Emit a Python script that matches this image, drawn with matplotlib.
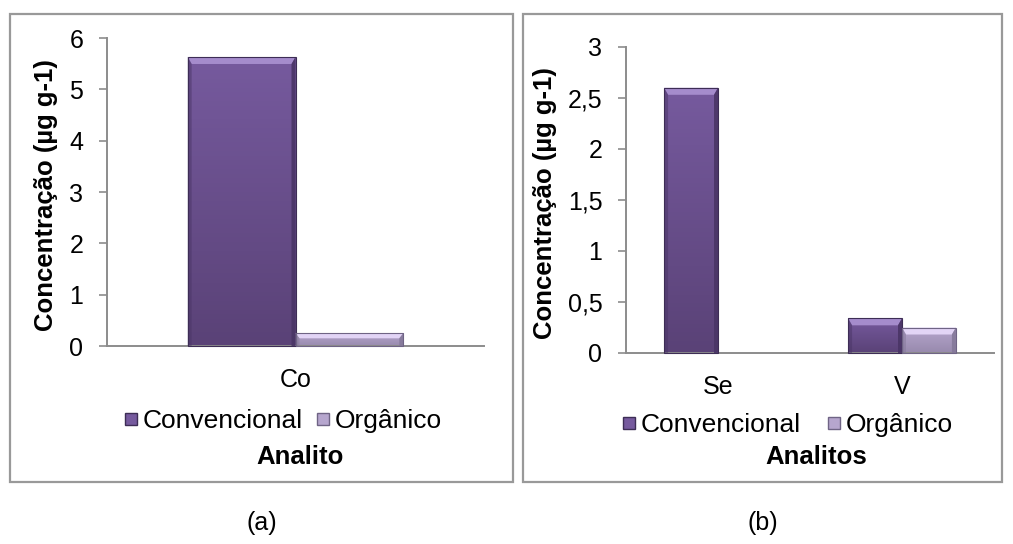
import matplotlib
matplotlib.use("Agg")
import matplotlib.pyplot as plt
import numpy as np
from matplotlib.patches import Rectangle, Polygon
from matplotlib.transforms import IdentityTransform
from matplotlib.lines import Line2D
from matplotlib.colors import LinearSegmentedColormap

plt.rcParams['font.family'] = ['Liberation Sans', 'DejaVu Sans']

# Panel (a): cobalt
cats_a = ["Co"]
conv_a = [5.63]
org_a = [0.25]
yticks_a = [0, 1, 2, 3, 4, 5, 6]
yticklabels_a = ["0", "1", "2", "3", "4", "5", "6"]

# Panel (b): selenium and vanadium
cats_b = ["Se", "V"]
conv_b = [2.60, 0.34]
org_b = [0.0, 0.25]
yticks_b = [0, 0.5, 1, 1.5, 2, 2.5, 3]
yticklabels_b = ["0", "0,5", "1", "1,5", "2", "2,5", "3"]

series_names = ["Convencional", "Orgânico"]
ylabel = "Concentração (µg g-1)"

W, H = 1013, 544
fig = plt.figure(figsize=(W / 100, H / 100), dpi=100)
fig.patch.set_facecolor("white")

FS_TICK = 18
FS_LEG = 19
FS_LAB = 18.5
AXIS_GRAY = "#8c8c8c"

# bar shading: top bevel, body top, body bottom, side bevel, outline
STYLE = {
    "conv": dict(top="#a58ccc", body0="#765a9e", body1="#5a4277", side="#4a3566", edge="#3d2d55"),
    "org": dict(top="#e2d4f6", body0="#b6a6ce", body1="#988aad", side="#85799a", edge="#6f6485"),
}


def px(x, y):
    return x / W, 1 - y / H


def frame(x0, y0, x1, y1):
    fx0, fy1 = px(x0, y0)
    fx1, fy0 = px(x1, y1)
    fig.add_artist(Rectangle((fx0, fy0), fx1 - fx0, fy1 - fy0, transform=fig.transFigure,
                             fill=False, edgecolor="#999999", lw=1.6))


def bevel_bars(ax, bars, st):
    fig.canvas.draw()
    cmap = LinearSegmentedColormap.from_list("g", [st["body0"], st["body1"]])
    for b in bars:
        h = b.get_height()
        if h <= 0:
            continue
        (dx0, dy0), (dx1, dy1) = ax.transData.transform(
            [(b.get_x(), 0), (b.get_x() + b.get_width(), h)])
        grad = np.linspace(0, 1, 64).reshape(-1, 1)
        im = ax.imshow(grad, cmap=cmap, aspect="auto",
                       extent=(b.get_x(), b.get_x() + b.get_width(), 0, h),
                       zorder=2, origin="upper")
        im.set_clip_path(b)
        bev = min(7.0, (dy1 - dy0) / 2.5)
        side = min(4.0, (dx1 - dx0) / 6)
        top = Polygon([(dx0, dy1), (dx1, dy1), (dx1 - side, dy1 - bev), (dx0 + side, dy1 - bev)],
                      closed=True, transform=IdentityTransform(), facecolor=st["top"],
                      edgecolor="none", zorder=3)
        left = Polygon([(dx0, dy0), (dx0, dy1), (dx0 + side, dy1 - bev), (dx0 + side, dy0)],
                       closed=True, transform=IdentityTransform(), facecolor=st["side"],
                       edgecolor="none", zorder=3, alpha=0.5)
        right = Polygon([(dx1, dy0), (dx1, dy1), (dx1 - side, dy1 - bev), (dx1 - side, dy0)],
                        closed=True, transform=IdentityTransform(), facecolor=st["side"],
                        edgecolor="none", zorder=3, alpha=0.9)
        for p in (top, left, right):
            fig.add_artist(p)
        fig.add_artist(Rectangle((dx0, dy0), dx1 - dx0, dy1 - dy0, transform=IdentityTransform(),
                                 fill=False, edgecolor=st["edge"], lw=0.8, zorder=4))


def panel(rect_px, cats, conv, org, width, yticks, yticklabels, ymax, xlab,
          ylabel_x, legend_xy, colspace, xlab_xy):
    x0, y0, x1, y1 = rect_px
    fx0, fy1 = px(x0, y0)
    fx1, fy0 = px(x1, y1)
    ax = fig.add_axes([fx0, fy0, fx1 - fx0, fy1 - fy0])
    x = np.arange(len(cats))
    b1 = ax.bar(x - width / 2, conv, width, color=STYLE["conv"]["body0"], zorder=1, linewidth=0)
    b2 = ax.bar(x + width / 2, org, width, color=STYLE["org"]["body0"], zorder=1, linewidth=0)
    ax.set_xlim(-0.5, len(cats) - 0.5)
    ax.set_ylim(0, ymax)
    ax.set_yticks(yticks)
    ax.set_yticklabels(yticklabels, fontsize=FS_TICK)
    ax.set_xticks(x)
    ax.set_xticklabels(cats, fontsize=FS_TICK)
    ax.tick_params(axis="x", length=0, pad=16)
    ax.tick_params(axis="y", length=6, width=1.2, color=AXIS_GRAY, pad=11)
    for s in ("top", "right"):
        ax.spines[s].set_visible(False)
    for s in ("left", "bottom"):
        ax.spines[s].set_color(AXIS_GRAY)
        ax.spines[s].set_linewidth(1.4)
    ax.set_facecolor("none")

    fig.text(ylabel_x / W, 1 - ((y0 + y1) / 2 + 3) / H, ylabel, rotation=90, fontsize=FS_LAB,
             fontweight="bold", ha="center", va="center")

    handles = [Line2D([], [], marker="s", ls="none", markersize=9,
                      markerfacecolor=STYLE["conv"]["body0"], markeredgecolor=STYLE["conv"]["edge"]),
               Line2D([], [], marker="s", ls="none", markersize=9,
                      markerfacecolor=STYLE["org"]["body0"], markeredgecolor=STYLE["org"]["edge"])]
    lx, ly = legend_xy
    fig.legend(handles, series_names, loc="center", bbox_to_anchor=(lx / W, 1 - ly / H),
               ncol=2, frameon=False, fontsize=FS_LEG, handletextpad=0.1, columnspacing=colspace,
               handlelength=0.7, borderpad=0, borderaxespad=0)
    tx, ty = xlab_xy
    fig.text(tx / W, 1 - ty / H, xlab, fontsize=FS_LAB, fontweight="bold",
             ha="center", va="center")
    return ax, b1, b2


axa, a1, a2 = panel((107, 38, 484, 346), cats_a, conv_a, org_a, 0.286,
                    yticks_a, yticklabels_a, 6, "Analito", 46, (282, 421), 0.4, (300, 457))
axb, bb1, bb2 = panel((626, 47, 994, 353), cats_b, conv_b, org_b, 0.293,
                      yticks_b, yticklabels_b, 3, "Analitos", 545, (786, 425), 0.9, (816, 457))

bevel_bars(axa, a1, STYLE["conv"])
bevel_bars(axa, a2, STYLE["org"])
bevel_bars(axb, bb1, STYLE["conv"])
bevel_bars(axb, bb2, STYLE["org"])

frame(10, 14, 513, 482)
frame(523, 14, 1002, 482)

fig.text(262 / W, 1 - 523 / H, "(a)", fontsize=FS_TICK, ha="center", va="center")
fig.text(763 / W, 1 - 523 / H, "(b)", fontsize=FS_TICK, ha="center", va="center")

fig.savefig("out.png", dpi=100, facecolor="white")
